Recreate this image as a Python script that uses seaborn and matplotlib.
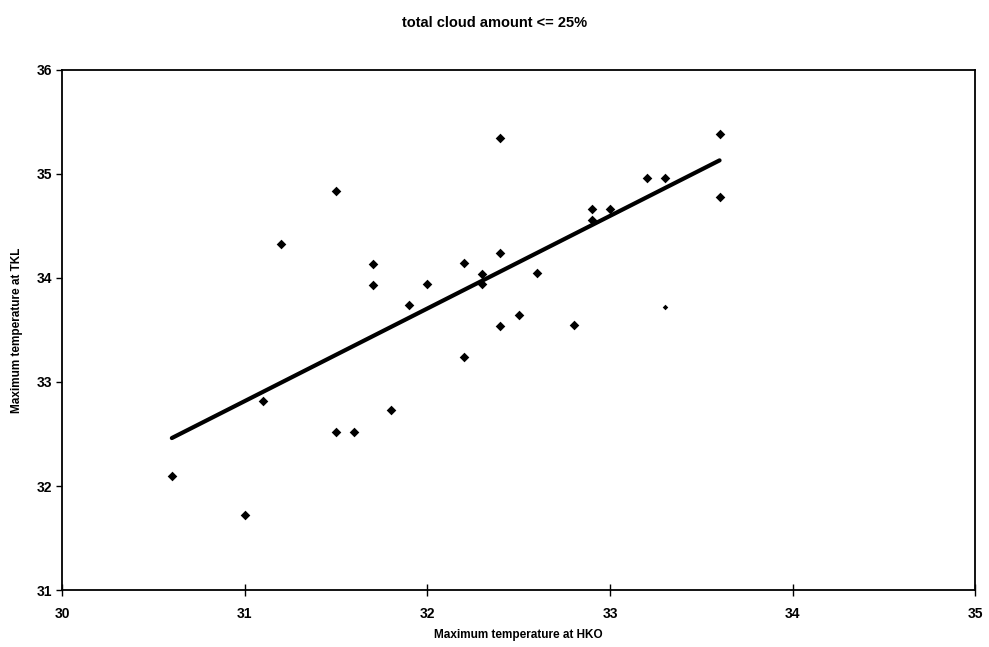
import numpy as np
import pandas as pd
import matplotlib.pyplot as plt
import seaborn as sns

# max temperature readings (deg C)
hko = [30.6, 31.0, 31.1, 31.2, 31.5, 31.5, 31.6, 31.7, 31.7, 31.8,
       31.9, 32.0, 32.2, 32.2, 32.3, 32.3, 32.4, 32.4, 32.4, 32.5,
       32.6, 32.8, 32.9, 32.9, 33.0, 33.2, 33.3, 33.6, 33.6]
tkl = [32.1, 31.72, 32.82, 34.33, 34.84, 32.52, 32.52, 34.13, 33.93, 32.73,
       33.74, 33.94, 34.14, 33.24, 34.04, 33.94, 35.35, 34.24, 33.54, 33.64,
       34.05, 33.55, 34.66, 34.56, 34.66, 34.96, 34.96, 35.38, 34.78]
# faint half-printed mark on the scan, not part of the trendline
odd_hko = [33.3]
odd_tkl = [33.72]
xticks = [30, 31, 32, 33, 34, 35]
yticks = [31, 32, 33, 34, 35, 36]

df = pd.DataFrame({"HKO": hko, "TKL": tkl})

sns.set_style("white")
plt.rcParams['font.family'] = ['Liberation Sans Narrow', 'Liberation Sans', 'DejaVu Sans']
plt.rcParams['font.weight'] = 'bold'
plt.rcParams['text.color'] = 'black'
plt.rcParams['axes.labelcolor'] = 'black'

fig = plt.figure(figsize=(9.89, 6.47), dpi=100)
ax = fig.add_axes([0.063, 0.088, 0.923, 0.804])

sns.regplot(x="HKO", y="TKL", data=df, ax=ax, ci=None, truncate=True,
            marker="D", color="black",
            scatter_kws={"s": 24, "linewidths": 0, "alpha": 1},
            line_kws={"linewidth": 3, "color": "black"})
ax.scatter(odd_hko, odd_tkl, marker="D", s=8, color="black", linewidths=0)

ax.set_xlim(30, 35)
ax.set_ylim(31, 36)
ax.set_xticks(xticks)
ax.set_yticks(yticks)
ax.tick_params(axis="both", bottom=True, left=True, direction="out", length=4,
               width=1, labelsize=10, colors="black")
ax.tick_params(axis="x", direction="inout", length=8, pad=8)
for s in ax.spines.values():
    s.set_color("black")
    s.set_linewidth(1.3)

ax.set_xlabel("Maximum temperature at HKO", fontsize=8.5, fontweight="bold", labelpad=6)
ax.set_ylabel("Maximum temperature at TKL", fontsize=8.5, fontweight="bold", labelpad=10)
fig.suptitle("total cloud amount <= 25%", fontsize=10.5, fontweight="bold", y=0.975)

fig.savefig("out.png", dpi=100, facecolor="white")
